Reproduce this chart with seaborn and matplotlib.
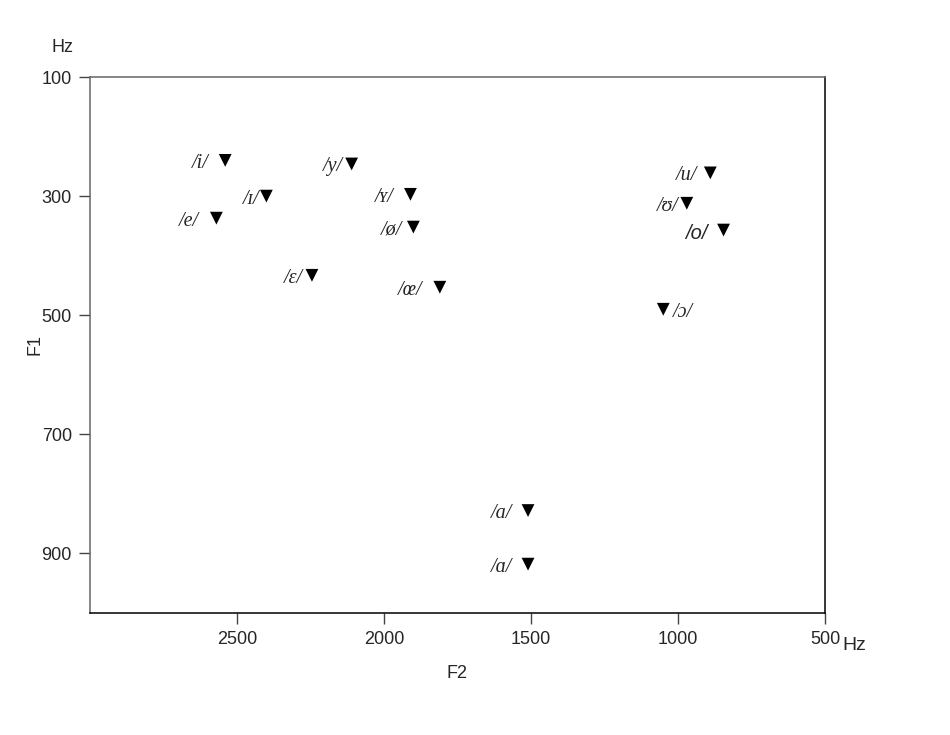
import numpy as np
import pandas as pd
import seaborn as sns
import matplotlib.pyplot as plt

# vowel formant data (Hz)
vowels = ["/i/", "/ɪ/", "/e/", "/y/", "/ʏ/", "/ø/", "/ɛ/", "/œ/",
          "/u/", "/ʊ/", "/o/", "/ɔ/", "/a/", "/ɑ/"]
f2 = [2540, 2400, 2570, 2110, 1910, 1900, 2245, 1810,
      890, 970, 845, 1050, 1510, 1510]
f1 = [240, 300, 337, 246, 297, 352, 433, 453,
      261, 312, 357, 490, 828, 918]

x_ticks = [2500, 2000, 1500, 1000, 500]
y_ticks = [100, 300, 500, 700, 900]

df = pd.DataFrame({"vowel": vowels, "F2": f2, "F1": f1})

# label gap from marker centre in pixels (negative = label on right side)
label_gap = {"/i/": 16, "/ɪ/": 7, "/e/": 17, "/y/": 9, "/ʏ/": 17, "/ø/": 11,
             "/ɛ/": 9, "/œ/": 17, "/u/": 13, "/ʊ/": 8, "/o/": 16, "/ɔ/": -10,
             "/a/": 16, "/ɑ/": 16}

sns.set_style("white")
plt.rcParams['font.family'] = ['Liberation Sans', 'DejaVu Sans']

fig = plt.figure(figsize=(9.5, 7.35), dpi=100)
ax = fig.add_axes([0.0947, 0.166, 0.7737, 0.7292])

sns.scatterplot(data=df, x="F2", y="F1", marker="v", s=85, color="black",
                edgecolor="none", ax=ax, legend=False)

for _, row in df.iterrows():
    gap = label_gap[row["vowel"]]
    fam = ['Liberation Sans'] if row["vowel"] == "/o/" else ['Liberation Serif', 'DejaVu Serif']
    ax.annotate(row["vowel"], (row["F2"], row["F1"]), xytext=(-gap, -3),
                textcoords="offset pixels", ha="right" if gap > 0 else "left",
                va="center", fontsize=14.5, fontstyle="italic", family=fam)

ax.set_xlim(3000, 500)
ax.set_ylim(1000, 100)
ax.set_xticks(x_ticks)
ax.set_yticks(y_ticks)
ax.tick_params(axis="both", direction="out", length=8, width=1, color="#444444",
               labelsize=13, pad=5, left=True, bottom=True)

for side in ["top", "left"]:
    ax.spines[side].set_color("#666666")
for side in ["bottom", "right"]:
    ax.spines[side].set_color("black")
for sp in ax.spines.values():
    sp.set_linewidth(1.1)

ax.set_xlabel("F2", fontsize=13, labelpad=12)
ax.set_ylabel("")
fig.text(0.037, 0.531, "F1", fontsize=13, rotation=90, ha="center", va="center")

fig.text(0.066, 0.936, "Hz", fontsize=13, ha="center", va="center")
fig.text(0.887, 0.122, "Hz", fontsize=14, ha="left", va="center")

fig.savefig("out.png", dpi=100, facecolor="white")
